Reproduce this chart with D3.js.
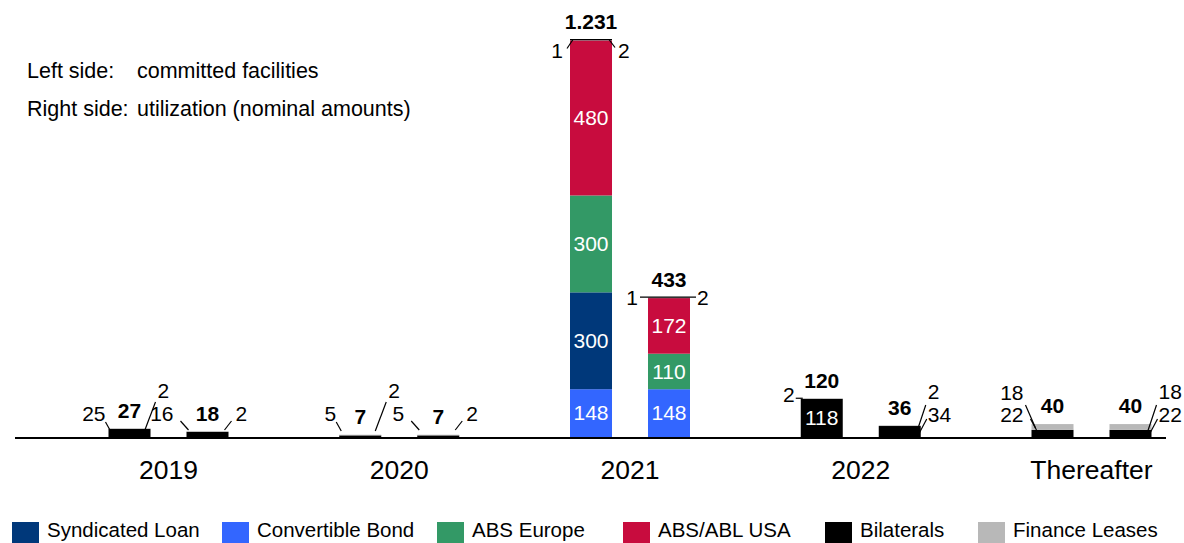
<!DOCTYPE html>
<html>
<head>
<meta charset="utf-8">
<script src="https://cdn.jsdelivr.net/npm/d3@7"></script>
<style>
  body { margin: 0; background: #fff; }
  svg text { font-family: "Liberation Sans", Arial, sans-serif; fill: #000; }
</style>
</head>
<body>
<div class="container"></div>
<script>
var categories = ["2019", "2020", "2021", "2022", "Thereafter"];
var legendOrder = ["Syndicated Loan", "Convertible Bond", "ABS Europe", "ABS/ABL USA", "Bilaterals", "Finance Leases"];
var stackOrder = ["Convertible Bond", "Syndicated Loan", "ABS Europe", "ABS/ABL USA", "Bilaterals", "Finance Leases"];

// left bars: committed facilities
var committedSyndicated = [0, 0, 300, 0, 0];
var committedConvertible = [0, 0, 148, 0, 0];
var committedAbsEurope = [0, 0, 300, 0, 0];
var committedAbsUsa = [0, 0, 480, 0, 0];
var committedBilaterals = [25, 5, 1, 118, 22];
var committedLeases = [2, 2, 2, 2, 18];

// right bars: utilization
var utilizedSyndicated = [0, 0, 0, 0, 0];
var utilizedConvertible = [0, 0, 148, 0, 0];
var utilizedAbsEurope = [0, 0, 110, 0, 0];
var utilizedAbsUsa = [0, 0, 172, 0, 0];
var utilizedBilaterals = [16, 5, 1, 34, 22];
var utilizedLeases = [2, 2, 2, 2, 18];

var noteLines = [["Left side:", "committed facilities"], ["Right side:", "utilization (nominal amounts)"]];

const WIDTH = 1184;
const HEIGHT = 543;
const BASE = 437;
const FS = "21px";

var color = d3.scaleOrdinal()
  .domain(legendOrder)
  .range(["#00387a", "#3366ff", "#339966", "#c80c3e", "#000000", "#b8b8b8"]);

var de = d3.formatLocale({decimal: ",", thousands: ".", grouping: [3], currency: ["", " €"]});
var fmt = de.format(",d");

// which way the small values get their callouts, per bar
var calloutStyle = {
  "2019L": "spread", "2019R": "sides",
  "2020L": "spread", "2020R": "sides",
  "2021L": "topDiag", "2021R": "topFlat",
  "2022L": "topLeft", "2022R": "stackRight",
  "ThereafterL": "stackLeft", "ThereafterR": "stackRight"
};

var rows = [];
categories.forEach(function(c, i) {
  rows.push({cat: c, side: "L",
    "Syndicated Loan": committedSyndicated[i], "Convertible Bond": committedConvertible[i],
    "ABS Europe": committedAbsEurope[i], "ABS/ABL USA": committedAbsUsa[i],
    "Bilaterals": committedBilaterals[i], "Finance Leases": committedLeases[i]});
  rows.push({cat: c, side: "R",
    "Syndicated Loan": utilizedSyndicated[i], "Convertible Bond": utilizedConvertible[i],
    "ABS Europe": utilizedAbsEurope[i], "ABS/ABL USA": utilizedAbsUsa[i],
    "Bilaterals": utilizedBilaterals[i], "Finance Leases": utilizedLeases[i]});
});
rows.forEach(function(r) { r.total = d3.sum(stackOrder, function(k) { return r[k]; }); });

var svg = d3.select(".container").append("svg")
  .attr("width", WIDTH)
  .attr("height", HEIGHT);

var xScale = d3.scalePoint().domain(categories).range([168.5, 1091.5]);
var xSide = d3.scaleBand().domain(["L", "R"]).range([-60, 60]).paddingInner(0.4615);
var yScale = d3.scaleLinear()
  .domain([0, d3.max(rows, function(r) { return r.total; })])
  .range([BASE, 39.5]);

var stacked = d3.stack().keys(stackOrder)(rows);

// bars
var layers = svg.append("g").selectAll("g").data(stacked).enter().append("g")
  .attr("fill", function(d) { return color(d.key); });

layers.selectAll("rect").data(function(d) { return d; }).enter().append("rect")
  .attr("x", function(d) { return xScale(d.data.cat) + xSide(d.data.side); })
  .attr("width", xSide.bandwidth())
  .attr("y", function(d) { return yScale(d[1]); })
  .attr("height", function(d) { return yScale(d[0]) - yScale(d[1]); });

// base line
svg.append("line")
  .attr("x1", 15).attr("x2", 1166)
  .attr("y1", BASE + 1).attr("y2", BASE + 1)
  .attr("stroke", "#000").attr("stroke-width", 2);

// labels inside the bigger segments
var segs = [];
stacked.forEach(function(layer) {
  layer.forEach(function(d) {
    segs.push({key: layer.key, v: d.data[layer.key], lo: d[0], hi: d[1], row: d.data});
  });
});

svg.append("g").selectAll("text")
  .data(segs.filter(function(s) { return s.v > 0 && yScale(s.lo) - yScale(s.hi) >= 16; }))
  .enter().append("text")
  .attr("x", function(s) { return xScale(s.row.cat) + xSide(s.row.side) + xSide.bandwidth() / 2; })
  .attr("y", function(s) { return (yScale(s.lo) + yScale(s.hi)) / 2; })
  .attr("dy", "0.35em")
  .attr("text-anchor", "middle")
  .style("fill", "#fff")
  .style("font-size", FS)
  .text(function(s) { return fmt(s.v); });

// totals
svg.append("g").selectAll("text").data(rows).enter().append("text")
  .attr("x", function(r) { return xScale(r.cat) + xSide(r.side) + xSide.bandwidth() / 2; })
  .attr("y", function(r) { return yScale(r.total) - 18; })
  .attr("dy", "0.35em")
  .attr("text-anchor", "middle")
  .style("font-size", FS)
  .style("font-weight", "bold")
  .text(function(r) { return fmt(r.total); });

// callouts for the thin segments
var callG = svg.append("g");

var put = function(txt, x, y, anchor) {
  callG.append("text").attr("x", x).attr("y", y).attr("dy", "0.35em")
    .attr("text-anchor", anchor).style("font-size", FS).text(txt);
};
var lead = function(xa, ya, xb, yb) {
  callG.append("line").attr("x1", xa).attr("y1", ya).attr("x2", xb).attr("y2", yb)
    .attr("stroke", "#000").attr("stroke-width", 1.2);
};

rows.forEach(function(r) {
  var x0 = xScale(r.cat) + xSide(r.side);
  var x1 = x0 + xSide.bandwidth();
  var top = yScale(r.total);
  var small = segs.filter(function(s) {
    return s.row === r && s.v > 0 && yScale(s.lo) - yScale(s.hi) < 16;
  });
  if (!small.length) return;
  var lo = fmt(small[0].v), hi = fmt(small[small.length - 1].v);
  var style = calloutStyle[r.cat + r.side];

  if (style === "spread") {
    put(lo, x0 - 3, BASE - 23, "end");
    lead(x0 - 3, BASE - 15, x0 + 2, BASE - 6);
    put(hi, x1 + 7, BASE - 46, "start");
    lead(x1 - 6, BASE - 6, x1 + 5, BASE - 35);
  } else if (style === "sides") {
    put(lo, x0 - 13, BASE - 23, "end");
    lead(x0 - 6, BASE - 16, x0 + 2, BASE - 7);
    put(hi, x1 + 7, BASE - 23, "start");
    lead(x1 - 4, BASE - 7, x1 + 3, BASE - 16);
  } else if (style === "topDiag") {
    lead(x0, top, x1, top);
    put(lo, x0 - 7, top + 11, "end");
    lead(x0 - 3, top + 9, x0 + 3, top);
    put(hi, x1 + 6, top + 11, "start");
    lead(x1 - 3, top, x1 + 3, top + 8);
  } else if (style === "topFlat") {
    lead(x0 - 8, top, x1 + 6, top);
    put(lo, x0 - 10, top, "end");
    put(hi, x1 + 7, top, "start");
  } else if (style === "topLeft") {
    put(hi, x0 - 6, top - 4, "end");
    lead(x0 - 5, top, x0 + 2, top);
  } else if (style === "stackLeft") {
    put(hi, x0 - 8, BASE - 44, "end");
    lead(x0 - 6, BASE - 32, x0 + 4, BASE - 9);
    put(lo, x0 - 8, BASE - 22, "end");
    lead(x0 - 1, BASE - 18, x0 + 5, BASE - 7);
  } else if (style === "stackRight") {
    put(hi, x1 + 7, BASE - 45, "start");
    lead(x1 - 4, BASE - 5, x1 + 5, BASE - 32);
    put(lo, x1 + 7, BASE - 22, "start");
    lead(x1 - 2, BASE - 3, x1 + 6, BASE - 18);
  }
});

// category labels
svg.append("g").selectAll("text").data(categories).enter().append("text")
  .attr("x", function(c) { return xScale(c); })
  .attr("y", 479)
  .attr("text-anchor", "middle")
  .style("font-size", "26.5px")
  .text(function(c) { return c; });

// note in the top left
var notes = svg.append("g");
noteLines.forEach(function(n, i) {
  notes.append("text").attr("x", 27).attr("y", 78 + i * 38).style("font-size", "21.5px").text(n[0]);
  notes.append("text").attr("x", 137).attr("y", 78 + i * 38).style("font-size", "21.5px").text(n[1]);
});

// legend
var legendX = [12, 222, 437, 623, 825, 978];
var legend = svg.append("g").selectAll("g").data(legendOrder).enter().append("g")
  .attr("transform", function(d, i) { return "translate(" + legendX[i] + ",522)"; });
legend.append("rect").attr("width", 27).attr("height", 21)
  .attr("fill", function(d) { return color(d); });
legend.append("text").attr("x", 35).attr("y", 15)
  .style("font-size", "20.5px")
  .text(function(d) { return d; });
</script>
</body>
</html>
